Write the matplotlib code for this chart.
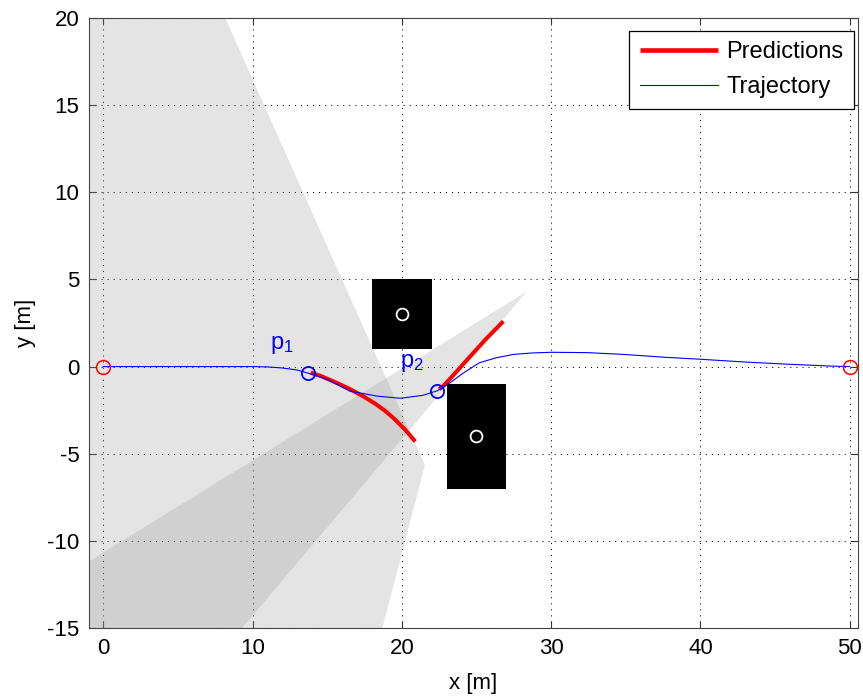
import numpy as np
import matplotlib
matplotlib.use("Agg")
import matplotlib.pyplot as plt
from matplotlib.patches import Polygon, Rectangle

plt.rcParams['font.family'] = ['Liberation Sans', 'DejaVu Sans']
plt.rcParams['mathtext.fontset'] = 'custom'
plt.rcParams['mathtext.rm'] = 'Liberation Sans'
plt.rcParams['axes.unicode_minus'] = False

# trajectory (blue)
traj_x = [0, 5, 10, 11, 12, 13, 13.74, 15, 16.5, 18.3, 19.9, 21.4, 22.4, 23.2, 24.1,
          25.2, 26.3, 27.5, 28.7, 30, 32.4, 34.8, 37.7, 40, 43, 46, 48.7, 50]
traj_y = [0, 0, 0, -0.02, -0.08, -0.2, -0.38, -0.73, -1.4, -1.69, -1.82, -1.65, -1.38, -0.95, -0.38,
          0.22, 0.5, 0.7, 0.78, 0.82, 0.8, 0.7, 0.53, 0.42, 0.26, 0.13, 0.03, 0]

# predictions (red)
pred1_x = [13.9, 14.6, 15.5, 16.5, 17.4, 18.2, 18.9, 19.5, 20.2, 20.9]
pred1_y = [-0.35, -0.55, -0.88, -1.28, -1.7, -2.12, -2.55, -3.0, -3.6, -4.3]
pred2_x = [22.5, 22.8, 23.6, 24.6, 25.6, 26.8]
pred2_y = [-1.3, -1.1, -0.35, 0.6, 1.55, 2.6]

# start / goal, sample points p1, p2
end_x = [0, 50]
end_y = [0, 0]
p_x = [13.74, 22.38]
p_y = [-0.38, -1.38]
p_labels = [r'$\mathregular{p_1}$', r'$\mathregular{p_2}$']
p_label_x = [11.2, 19.9]
p_label_y = [0.98, -0.04]

# obstacles: (x0, y0, w, h), centres
obs_rects = [(18, 1, 4, 4), (23, -7, 4, 6)]
obs_cx = [20, 25]
obs_cy = [3, -4]

# sensor cones (grey, semi transparent)
cone1 = [(-5, 20), (8.17, 20), (21.55, -5.65), (18.7, -15), (-5, -15)]
cone2 = [(28.36, 4.3), (-1, -11.2), (-5, -13.5), (-5, -15), (9.3, -15)]

fig = plt.figure(figsize=(8.63, 6.97), dpi=100)
ax = fig.add_axes([89/863, 1-628/697, (858-89)/863, (628-18)/697])

for c in (cone1, cone2):
    ax.add_patch(Polygon(c, closed=True, fc=(151/255, 151/255, 151/255), alpha=0.26,
                         ec='none', zorder=1))
for (x0, y0, w, h) in obs_rects:
    ax.add_patch(Rectangle((x0, y0), w, h, fc='black', ec='none', zorder=2))
ax.plot(obs_cx, obs_cy, 'o', ms=8.5, mfc='none', mec='white', mew=1.3, zorder=3)

ax.plot(pred1_x, pred1_y, '-', color='#ff0000', lw=2.9, zorder=4, label='Predictions',
        solid_capstyle='butt')
ax.plot(pred2_x, pred2_y, '-', color='#ff0000', lw=2.9, zorder=4, solid_capstyle='butt')
ax.plot(traj_x, traj_y, '-', color='#0000ff', lw=0.8, zorder=5, label='Trajectory')
ax.plot(end_x, end_y, 'o', ms=10, mfc='none', mec='#ff0000', mew=1.1, zorder=6)
ax.plot(p_x, p_y, 'o', ms=9.5, mfc='none', mec='#0000ff', mew=1.3, zorder=6)
for lx, ly, t in zip(p_label_x, p_label_y, p_labels):
    ax.text(lx, ly, t, color='#0000ff', fontsize=17, va='baseline', ha='left', zorder=7)

ax.set_xlim(-0.95, 50.55)
ax.set_ylim(-15, 20)
ax.set_xticks(range(0, 51, 10))
ax.set_yticks(range(-15, 21, 5))
ax.set_axisbelow(True)
ax.grid(True, color='black', lw=0.75, linestyle=(0, (1, 4.8)))
ax.tick_params(direction='in', length=5, width=0.8, top=True, right=True,
               labelsize=16, pad=7, color='#333333')
for s in ax.spines.values():
    s.set_color('#444444')
    s.set_linewidth(0.8)
ax.set_xlabel('x [m]', fontsize=16, labelpad=10)
ax.set_ylabel('y [m]', fontsize=16, labelpad=8)

leg = ax.legend(loc='upper right', bbox_to_anchor=(854/863, 1-30.7/697),
                bbox_transform=fig.transFigure, borderaxespad=0, fontsize=17,
                handlelength=3.3, handletextpad=0.35, labelspacing=0.55,
                borderpad=0.45, fancybox=False, framealpha=1, edgecolor='black')
leg.get_frame().set_linewidth(0.9)
leg.get_lines()[0].set_linewidth(3.3)

fig.savefig('out.png', dpi=100)
